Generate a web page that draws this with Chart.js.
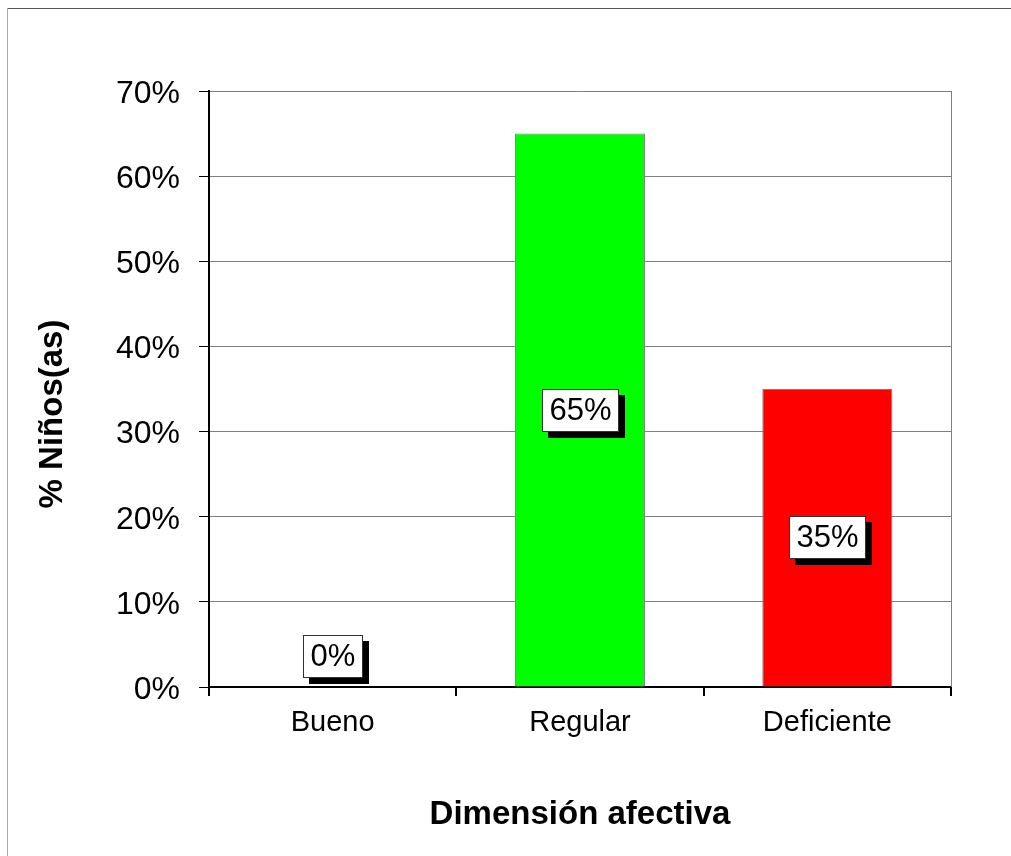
<!DOCTYPE html>
<html>
<head>
<meta charset="utf-8">
<script src="https://cdn.jsdelivr.net/npm/chart.js@4.4.0/dist/chart.umd.min.js"></script>
<style>
  html, body { margin: 0; padding: 0; background: #fff; }
</style>
</head>
<body>
<canvas id="chart" width="1011" height="856"></canvas>
<script>
// chart data
const categories = ['Bueno', 'Regular', 'Deficiente'];
const percentages = [0, 65, 35];
const barColors = ['#0000ff', '#00ff00', '#ff0000'];
const yTickValues = [0, 10, 20, 30, 40, 50, 60, 70];

const FONT = "'Liberation Sans', Arial, sans-serif";

// white page + outer frame + right border of the plot + rotated y title
const framePlugin = {
    id: 'frame',
    beforeDraw(chart) {
        const ctx = chart.ctx;
        ctx.save();
        ctx.fillStyle = '#fff';
        ctx.fillRect(0, 0, chart.width, chart.height);
        ctx.lineWidth = 1;
        ctx.strokeStyle = '#555';
        ctx.beginPath();
        ctx.moveTo(7, 8.5);
        ctx.lineTo(chart.width, 8.5);
        ctx.stroke();
        ctx.strokeStyle = '#aaa';
        ctx.beginPath();
        ctx.moveTo(7.5, 8);
        ctx.lineTo(7.5, chart.height);
        ctx.stroke();
        ctx.restore();
    },
    afterDraw(chart) {
        const ctx = chart.ctx;
        const a = chart.chartArea;
        ctx.save();
        ctx.strokeStyle = '#808080';
        ctx.lineWidth = 1;
        ctx.beginPath();
        ctx.moveTo(a.right + 0.5, a.top);
        ctx.lineTo(a.right + 0.5, a.bottom);
        ctx.stroke();
        // y axis title, centred a bit lower than the plot like the original
        ctx.translate(53, 414);
        ctx.rotate(-Math.PI / 2);
        ctx.fillStyle = '#000';
        ctx.font = 'bold 33px ' + FONT;
        ctx.textAlign = 'center';
        ctx.textBaseline = 'middle';
        ctx.fillText('% Niños(as)', 0, 0);
        ctx.restore();
    }
};

// boxed value labels with a black drop shadow
const boxLabels = {
    id: 'boxLabels',
    afterDatasetsDraw(chart) {
        const ctx = chart.ctx;
        const meta = chart.getDatasetMeta(0);
        ctx.save();
        ctx.font = '31px ' + FONT;
        ctx.textAlign = 'center';
        ctx.textBaseline = 'middle';
        meta.data.forEach((bar, i) => {
            const txt = percentages[i] + '%';
            const w = Math.round(ctx.measureText(txt).width) + 15;
            const h = 43;
            let cy = (bar.y + bar.base) / 2;
            if (bar.base - cy < 31) cy = bar.base - 31;
            const x0 = Math.round(bar.x - w / 2);
            const y0 = Math.round(cy - h / 2);
            ctx.fillStyle = '#000';
            ctx.fillRect(x0 + 6, y0 + 6, w, h);
            ctx.fillStyle = '#fff';
            ctx.fillRect(x0, y0, w, h);
            ctx.strokeStyle = '#333';
            ctx.lineWidth = 1;
            ctx.strokeRect(x0 + 0.5, y0 + 0.5, w - 1, h - 1);
            ctx.fillStyle = '#000';
            ctx.fillText(txt, x0 + w / 2, y0 + h / 2 + 1);
        });
        ctx.restore();
    }
};

new Chart(document.getElementById('chart'), {
    type: 'bar',
    data: {
        labels: categories,
        datasets: [{
            data: percentages,
            backgroundColor: barColors,
            borderColor: '#808080',
            borderWidth: 1,
            categoryPercentage: 1,
            barPercentage: 0.526
        }]
    },
    options: {
        responsive: false,
        animation: false,
        layout: { padding: { top: 91, right: 60, left: 0, bottom: 0 } },
        plugins: { legend: { display: false }, tooltip: { enabled: false } },
        scales: {
            x: {
                afterFit: (s) => { s.height = 169; },
                grid: { display: true, drawOnChartArea: false, offset: true, tickLength: 9, color: '#000', tickColor: '#000', lineWidth: 2 },
                border: { color: '#000', width: 2 },
                ticks: { color: '#000', font: { family: FONT, size: 29 }, padding: 10 },
                title: {
                    display: true,
                    text: 'Dimensión afectiva',
                    color: '#000',
                    font: { family: FONT, size: 33, weight: 'bold' },
                    padding: { top: 0, bottom: 21 }
                }
            },
            y: {
                min: 0,
                max: 70,
                afterFit: (s) => { s.width = 209; },
                afterBuildTicks: (s) => { s.ticks = yTickValues.map(v => ({ value: v })); },
                grid: { color: '#808080', tickColor: '#000', tickLength: 10, lineWidth: 1 },
                border: { color: '#000', width: 2 },
                ticks: {
                    color: '#000',
                    font: { family: FONT, size: 32 },
                    padding: 19,
                    labelOffset: 3,
                    callback: (v) => v + '%'
                }
            }
        }
    },
    plugins: [framePlugin, boxLabels]
});
</script>
</body>
</html>
